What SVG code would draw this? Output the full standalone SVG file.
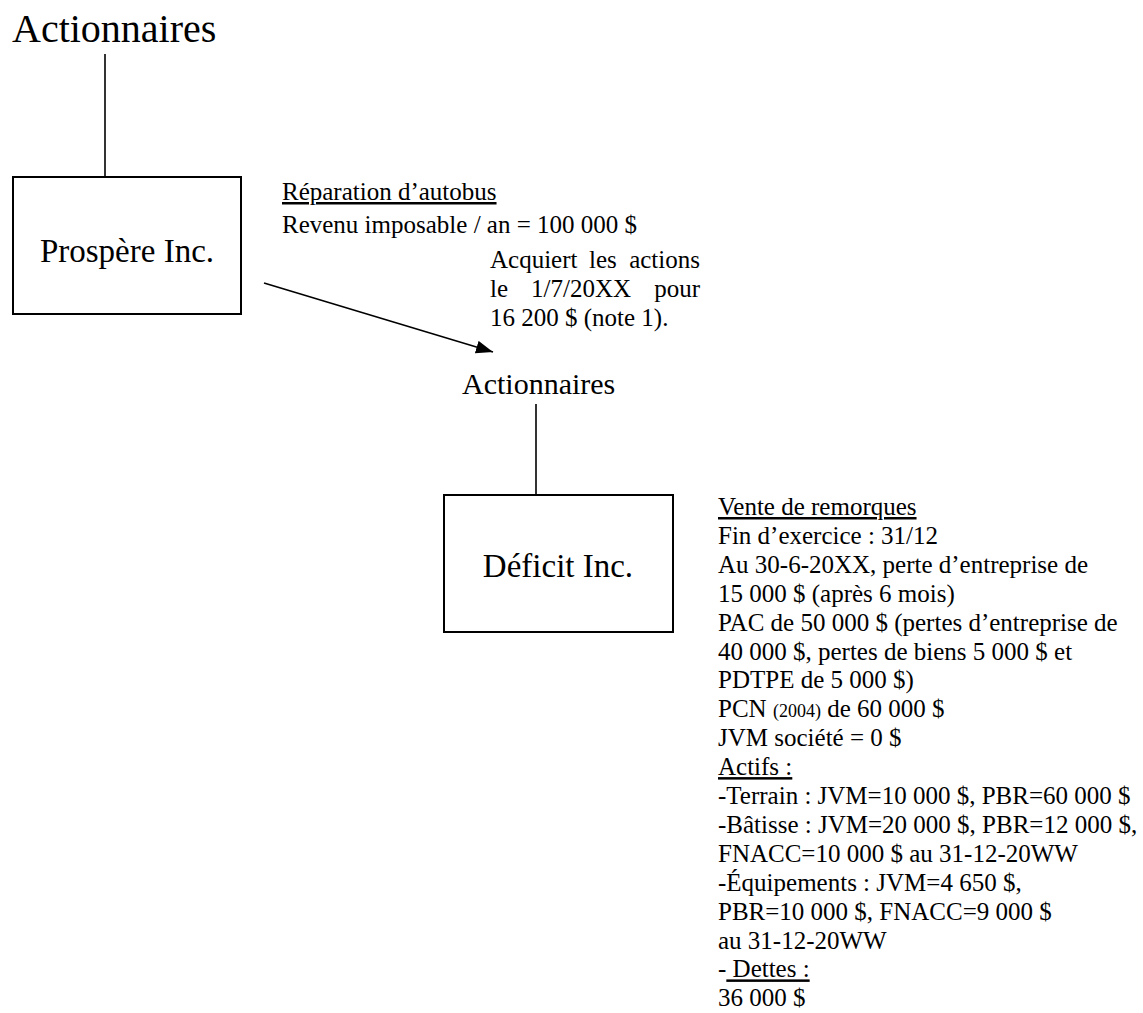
<svg xmlns="http://www.w3.org/2000/svg" width="1143" height="1013" viewBox="0 0 1143 1013">
<style>
text{font-family:"Liberation Serif","Times New Roman",serif;fill:#000}
.t{font-size:25px}
.big{font-size:40px}
.mid{font-size:30px}
.lbl{font-size:33px;text-anchor:middle}
.u{text-decoration:underline}
.box{fill:#fff;stroke:#000;stroke-width:2}
.ln{stroke:#000;stroke-width:1.6;fill:none}
</style>
<defs>
<marker id="ah" viewBox="0 0 10 10" refX="10" refY="5" markerWidth="17" markerHeight="13" markerUnits="userSpaceOnUse" orient="auto" preserveAspectRatio="none">
<path d="M0,0 L10,5 L0,10 z" fill="#000"/>
</marker>
</defs>
<g id="connectors">
<line class="ln" x1="105" y1="54" x2="105" y2="177"/>
<line class="ln" x1="264" y1="283" x2="493" y2="352" marker-end="url(#ah)"/>
<line class="ln" x1="536" y1="404" x2="536" y2="495"/>
</g>
<g id="actionnaires-top"><text class="big" x="12" y="42">Actionnaires</text></g>
<g id="prospere">
<rect class="box" x="13" y="177" width="228" height="137"/>
<text class="lbl" x="127" y="262">Prospère Inc.</text>
</g>
<g id="prospere-info">
<text class="t u" x="282" y="200">Réparation d’autobus</text>
<text class="t" x="282" y="233">Revenu imposable / an = 100 000 $</text>
</g>
<g id="acquisition-note">
<text class="t" y="268"><tspan x="490">Acquiert</tspan><tspan x="589">les</tspan><tspan x="700" text-anchor="end">actions</tspan></text>
<text class="t" y="297"><tspan x="490">le</tspan><tspan x="531">1/7/20XX</tspan><tspan x="700" text-anchor="end">pour</tspan></text>
<text class="t" x="490" y="326">16 200 $ (note 1).</text>
</g>
<g id="actionnaires-mid"><text class="mid" x="462" y="394">Actionnaires</text></g>
<g id="deficit">
<rect class="box" x="444" y="495" width="229" height="137"/>
<text class="lbl" x="558" y="577">Déficit Inc.</text>
</g>
<g id="deficit-info">
<text class="t u" x="718" y="515">Vente de remorques</text>
<text class="t" x="718" y="543.9">Fin d’exercice : 31/12</text>
<text class="t" x="718" y="572.8">Au 30-6-20XX, perte d’entreprise de</text>
<text class="t" x="718" y="601.7">15 000 $ (après 6 mois)</text>
<text class="t" x="718" y="630.6">PAC de 50 000 $ (pertes d’entreprise de</text>
<text class="t" x="718" y="659.5">40 000 $, pertes de biens 5 000 $ et</text>
<text class="t" x="718" y="688.4">PDTPE de 5 000 $)</text>
<text class="t" x="718" y="717.3">PCN <tspan font-size="18">(2004)</tspan> de 60 000 $</text>
<text class="t" x="718" y="746.2">JVM société = 0 $</text>
<text class="t u" x="718" y="775.1">Actifs :</text>
<text class="t" x="718" y="804">-Terrain : JVM=10 000 $, PBR=60 000 $</text>
<text class="t" x="718" y="832.9">-Bâtisse : JVM=20 000 $, PBR=12 000 $,</text>
<text class="t" x="718" y="861.8">FNACC=10 000 $ au 31-12-20WW</text>
<text class="t" x="718" y="890.7">-Équipements : JVM=4 650 $,</text>
<text class="t" x="718" y="919.6">PBR=10 000 $, FNACC=9 000 $</text>
<text class="t" x="718" y="948.5">au 31-12-20WW</text>
<text class="t" x="718" y="977.4">-<tspan class="u"> Dettes :</tspan></text>
<text class="t" x="718" y="1006.3">36 000 $</text>
</g>
</svg>
